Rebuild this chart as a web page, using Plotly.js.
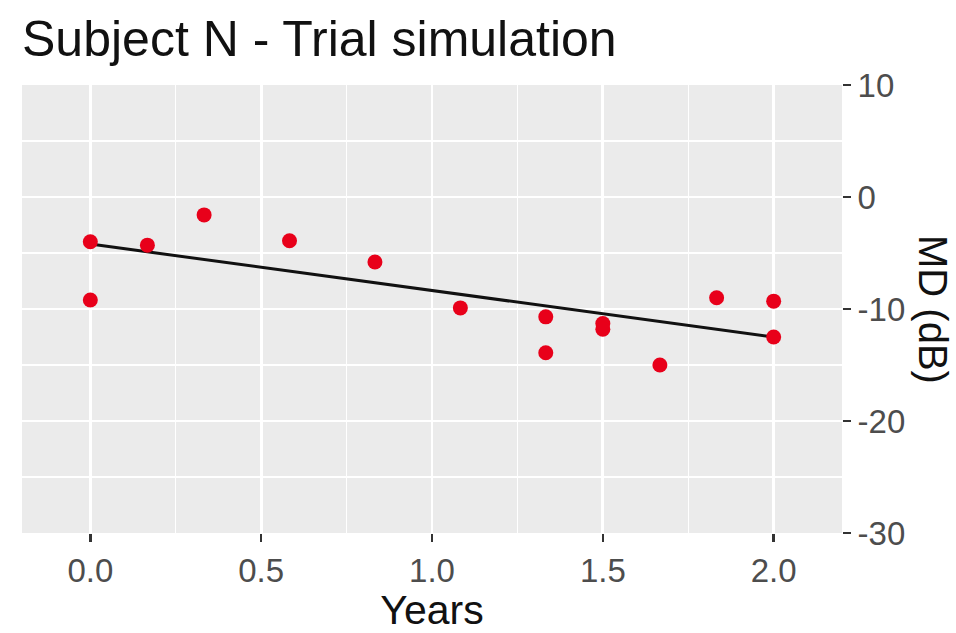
<!DOCTYPE html>
<html>
<head>
<meta charset="utf-8">
<script src="https://cdn.plot.ly/plotly-3.0.1.min.js"></script>
<style>html,body{margin:0;padding:0;background:#fff;}#chart{width:956px;height:633px;}</style>
</head>
<body>
<div id="chart"></div>
<script>
// Observed MD values (dB) by follow-up time (years)
const years = [0, 0, 0.167, 0.333, 0.583, 0.833, 1.083, 1.333, 1.333, 1.5, 1.5, 1.667, 1.833, 2, 2];
const md    = [-4.0, -9.2, -4.3, -1.6, -3.9, -5.8, -9.9, -10.7, -13.9, -11.3, -11.8, -15.0, -9.0, -9.3, -12.5];
// Fitted trend line
const fitYears = [0, 2];
const fitMD    = [-4.2, -12.5];
// Axis ticks
const xTicks = [0, 0.5, 1, 1.5, 2];
const xTickLabels = ['0.0', '0.5', '1.0', '1.5', '2.0'];
const yTicks = [-30, -20, -10, 0, 10];
const yTickLabels = ['-30', '-20', '-10', '0', '10'];

const font = 'Liberation Sans, Arial, sans-serif';

const traces = [
  {x: fitYears, y: fitMD, type: 'scatter', mode: 'lines',
   line: {color: '#111111', width: 3}, hoverinfo: 'skip', showlegend: false},
  {x: years, y: md, type: 'scatter', mode: 'markers',
   marker: {color: '#e8001a', size: 15, line: {width: 0}}, showlegend: false}
];

const layout = {
  width: 956, height: 633,
  paper_bgcolor: '#ffffff', plot_bgcolor: '#ebebeb',
  margin: {l: 22, r: 114, t: 85, b: 100},
  showlegend: false,
  title: {text: 'Subject N - Trial simulation', x: 22/956, xref: 'container', xanchor: 'left',
          y: 1 - 38/633, yref: 'container', yanchor: 'middle',
          font: {family: font, size: 50, color: '#111111'}},
  xaxis: {
    range: [-0.2, 2.2], tickvals: xTicks, ticktext: xTickLabels,
    showgrid: true, gridcolor: '#ffffff', gridwidth: 2.8, zeroline: false,
    ticks: 'outside', ticklen: 8, tickwidth: 2.5, tickcolor: '#333333',
    tickfont: {family: font, size: 33, color: '#4d4d4d'},
    showline: false,
    minor: {dtick: 0.25, tick0: 0, showgrid: true, gridcolor: '#ffffff', gridwidth: 1.4, ticks: ''},
    title: {text: 'Years', font: {family: font, size: 41, color: '#111111'}, standoff: 6}
  },
  yaxis: {
    side: 'right', range: [-30, 10], tickvals: yTicks, ticktext: yTickLabels,
    showgrid: true, gridcolor: '#ffffff', gridwidth: 2.8, zeroline: false,
    ticks: 'outside', ticklen: 8, tickwidth: 2.5, tickcolor: '#333333',
    tickfont: {family: font, size: 33, color: '#4d4d4d'},
    showline: false,
    minor: {dtick: 5, tick0: 0, showgrid: true, gridcolor: '#ffffff', gridwidth: 1.4, ticks: ''}
  },
  annotations: [
    {text: 'MD (dB)', textangle: 90, xref: 'paper', yref: 'paper', x: 1, xshift: 91, y: 0.5,
     xanchor: 'center', yanchor: 'middle', showarrow: false,
     font: {family: font, size: 40, color: '#111111'}}
  ]
};

Plotly.newPlot('chart', traces, layout, {displayModeBar: false, staticPlot: true});
</script>
</body>
</html>
